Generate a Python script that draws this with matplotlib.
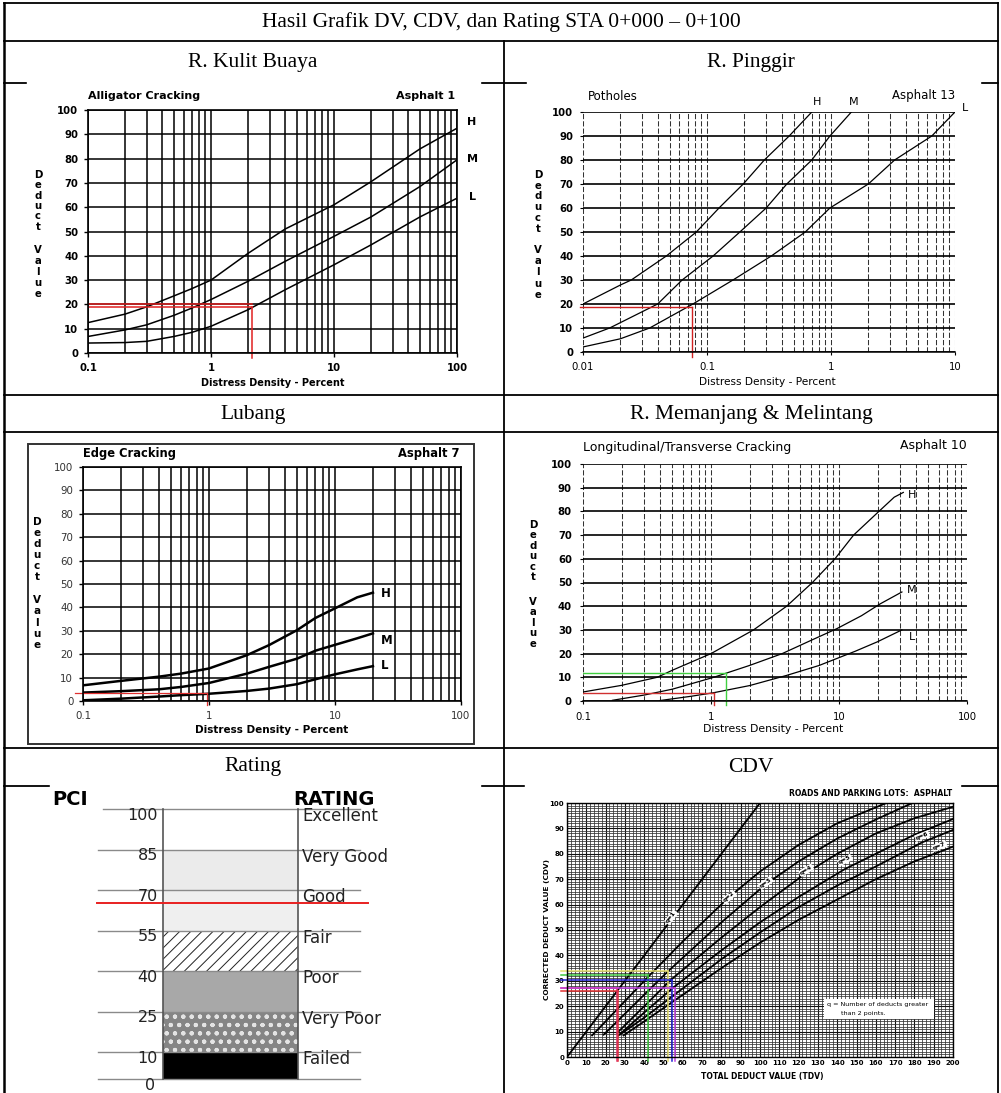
import numpy as np
import matplotlib
matplotlib.use('Agg')
import matplotlib.pyplot as plt
from matplotlib.ticker import LogLocator, NullFormatter, MultipleLocator
from matplotlib.patches import Rectangle

plt.rcParams['hatch.linewidth'] = 0.7

# ---------------- data ----------------
TITLE = 'Hasil Grafik DV, CDV, dan Rating STA 0+000 \u2013 0+100'
HEADERS = ['R. Kulit Buaya', 'R. Pinggir', 'Lubang', 'R. Memanjang & Melintang', 'Rating', 'CDV']

# Alligator cracking (Asphalt 1)
ALLIG_X = [0.1, 0.2, 0.3, 0.5, 0.7, 1, 2, 4, 10, 20, 50, 100]
ALLIG_H = [12.5, 16, 19, 23.5, 26.5, 30, 41, 51, 61, 70.5, 84, 92.5]
ALLIG_M = [6.8, 9.5, 11.6, 15.5, 18.5, 22, 29.5, 37.7, 48, 56, 68.5, 79.5]
ALLIG_L = [4.1, 4.3, 4.8, 6.8, 8.5, 11, 17.8, 26, 36.3, 44.5, 56, 63.7]
ALLIG_READ_X = 2.15
ALLIG_READ_Y = [18.8, 20.2]

# Potholes (Asphalt 13)
POT_H_X = [0.01, 0.02, 0.0245, 0.047, 0.082, 0.125, 0.196, 0.29, 0.46, 0.70]
POT_H_Y = [20, 27.9, 30, 40, 50, 60, 70, 80, 90, 100]
POT_M_X = [0.01, 0.0164, 0.040, 0.063, 0.112, 0.184, 0.30, 0.44, 0.70, 0.98, 1.46]
POT_M_Y = [5.8, 10, 20, 30, 40, 50, 60, 70, 80, 90, 100]
POT_L_X = [0.01, 0.02, 0.0345, 0.077, 0.162, 0.33, 0.62, 0.98, 2.0, 3.26, 6.5, 10]
POT_L_Y = [2.1, 5.5, 10, 20, 30, 40, 50, 60, 70, 80, 90, 100]
POT_READ_X = 0.076
POT_READ_Y = 18.8

# Edge cracking (Asphalt 7)
EDGE_X = [0.1, 0.2, 0.4, 0.6, 1, 2, 3, 5, 7, 10, 15, 20]
EDGE_H = [6.7, 8.6, 10.4, 11.7, 13.9, 19.6, 23.9, 30.3, 35.5, 39.6, 44.3, 46.3]
EDGE_M = [3.6, 4.2, 5.0, 6.0, 7.7, 11.7, 14.6, 18.1, 21.5, 24.0, 26.8, 28.9]
EDGE_L = [0.3, 1.0, 1.9, 2.5, 3.1, 4.3, 5.3, 7.2, 9.3, 11.4, 13.5, 14.9]
EDGE_READ_X = 0.97
EDGE_READ_Y = 3.6

# Longitudinal / transverse cracking (Asphalt 10)
LONG_H_X = [0.1, 0.2, 0.38, 0.5, 1.0, 2.15, 3.9, 6.2, 9.3, 13.0, 20.5, 27, 31.8]
LONG_H_Y = [3.8, 6.6, 10, 13, 20, 30, 40, 50, 60, 70, 80, 86, 88]
LONG_M_X = [0.17, 0.3, 0.5, 1.05, 2.0, 3.6, 6.0, 9.6, 15, 21, 31]
LONG_M_Y = [0.3, 2.5, 5, 10, 15, 20, 25.5, 30.5, 36, 41, 46]
LONG_L_X = [0.4, 0.7, 1.05, 2.0, 3.9, 7.0, 13.4, 20, 31]
LONG_L_Y = [0.2, 2, 3.5, 6.5, 10.8, 15, 21, 25, 30]
LONG_READ_RED = (1.05, 3.5)
LONG_READ_GREEN = (1.31, 12)

# PCI rating scale
PCI_LEVELS = [100, 85, 70, 55, 40, 25, 10, 0]
PCI_NAMES = ['Excellent', 'Very Good', 'Good', 'Fair', 'Poor', 'Very Poor', 'Failed']
PCI_RESULT = 65.2

# CDV curves (asphalt), q = 1..7
CDV_Q1_X = [0, 100]
CDV_Q1_Y = [0, 100]
CDV_Q2_X = [13, 20, 30, 42.6, 60, 84, 100, 120, 140, 165.5]
CDV_Q2_Y = [8.5, 14, 22, 32, 45.5, 63, 73, 83.5, 92, 100]
CDV_Q3_X = [19, 30, 52, 80, 103, 120, 140, 160, 179]
CDV_Q3_Y = [8.8, 17, 33.5, 53, 68, 77, 86, 93.5, 100]
CDV_Q4_X = [26, 40, 54, 80, 100, 124, 140, 160, 180, 200]
CDV_Q4_Y = [9.5, 20, 30.5, 47, 59, 72.5, 80, 88, 94, 98.5]
CDV_Q5_X = [26.7, 40, 55, 80, 100, 120, 144, 160, 180, 200]
CDV_Q5_Y = [8.5, 17.5, 27.3, 42, 53, 63, 74, 80, 87.5, 93.7]
CDV_Q6_X = [27.6, 40, 60, 80, 100, 120, 140, 160, 184, 200]
CDV_Q6_Y = [8.9, 15.5, 27, 38.5, 49, 59, 67.5, 75, 84.5, 89.4]
CDV_Q7_X = [29.3, 40, 60, 80, 100, 120, 140, 160, 180, 200]
CDV_Q7_Y = [8.5, 14, 24.5, 35, 45, 54, 62, 70, 77, 82.8]
Q_LABEL_X = [54, 84, 103, 124, 144, 184, 193]
Q_LABEL_Y = [55, 63, 68.5, 73.5, 77.5, 87, 83]
Q_LABEL_ROT = [52, 43, 36, 32, 27, 22, 21]
# (tdv, cdv, colour) of the reading lines
CDV_READS = [(26.4, 26.1, '#e03030'), (25.7, 27.0, '#e03060'), (42.1, 32.3, '#40c840'),
             (52.4, 33.9, '#e8e070'), (54.5, 30.3, '#2020d0'), (55.9, 27.0, '#c040e0')]

# ---------------- figure / table ----------------
W, H = 1001, 1093
fig = plt.figure(figsize=(W / 100, H / 100), dpi=100)
bg = fig.add_axes([0, 0, 1, 1])
bg.set_xlim(0, W)
bg.set_ylim(H, 0)
bg.axis('off')


def box(x0, y0, x1, y1):
    return fig.add_axes([x0 / W, 1 - y1 / H, (x1 - x0) / W, (y1 - y0) / H])


LW = 1.3
for y in [3, 41, 83, 395, 432, 748, 786]:
    bg.plot([4, 998], [y, y], color='k', lw=LW, zorder=1, solid_capstyle='projecting')
bg.plot([4, 4], [3, H], color='k', lw=1.8, zorder=1)
bg.plot([998, 998], [3, H], color='k', lw=1.3, zorder=1)
bg.plot([504, 504], [41, H], color='k', lw=1.3, zorder=1)

# the pasted screenshots hide part of the cell borders
for (x0, y0, x1, y1) in [(27, 79, 480, 90), (527, 79, 980, 90), (50, 782, 480, 792), (525, 782, 960, 792)]:
    bg.add_patch(Rectangle((x0, y0), x1 - x0, y1 - y0, color='white', zorder=1.5))

serif = 'Liberation Serif'
bg.text(501, 22, TITLE, ha='center', va='center', fontsize=15.5, family=serif)
for (cx, cy), txt in zip([(253, 62), (751, 62), (253, 414), (751, 414), (253, 767), (751, 767)], HEADERS):
    bg.text(cx, cy, txt, ha='center', va='center', fontsize=15.5, family=serif)


def stack_label(x, yD, stepD, yV, stepV, weight='bold', size=7.3, color='k'):
    for i, ch in enumerate('Deduct'):
        bg.text(x, yD + i * stepD, ch, ha='center', va='center', fontsize=size, fontweight=weight, color=color, zorder=5)
    for i, ch in enumerate('Value'):
        bg.text(x, yV + i * stepV, ch, ha='center', va='center', fontsize=size, fontweight=weight, color=color, zorder=5)


def log_axes(ax, xmin, xmax):
    ax.set_xscale('log')
    ax.set_xlim(xmin, xmax)
    ax.set_ylim(0, 100)
    ax.xaxis.set_minor_locator(LogLocator(base=10, subs=range(2, 10)))
    ax.xaxis.set_minor_formatter(NullFormatter())
    ax.set_yticks(range(0, 101, 10))
    decades = [10.0 ** k for k in range(int(np.log10(xmin)), int(np.log10(xmax)) + 1)]
    ax.set_xticks(decades)
    ax.set_xticklabels([('%g' % d) for d in decades])


# ---------- Alligator cracking ----------
ax1 = box(88, 110, 457, 353)
log_axes(ax1, 0.1, 100)
ax1.grid(which='both', axis='x', color='k', lw=1.1)
ax1.grid(which='major', axis='y', color='k', lw=1.1)
for s in ax1.spines.values():
    s.set_linewidth(1.2)
ax1.tick_params(which='major', length=3, width=1, labelsize=7.3, pad=4)
ax1.tick_params(which='minor', length=0)
plt.setp(ax1.get_xticklabels() + ax1.get_yticklabels(), fontweight='bold')
for ys in (ALLIG_H, ALLIG_M, ALLIG_L):
    ax1.plot(ALLIG_X, ys, color='k', lw=1.1)
for ry in ALLIG_READ_Y:
    ax1.plot([0.1, ALLIG_READ_X], [ry, ry], color='#e02020', lw=1.1)
ax1.plot([ALLIG_READ_X, ALLIG_READ_X], [-2, ALLIG_READ_Y[0]], color='#e02020', lw=1.1, clip_on=False)
bg.text(88, 96, 'Alligator Cracking', ha='left', va='center', fontsize=8, fontweight='bold')
bg.text(455, 96, 'Asphalt 1', ha='right', va='center', fontsize=8, fontweight='bold')
for lab, yy in zip('HML', [122, 159, 197]):
    bg.text(472, yy, lab, ha='center', va='center', fontsize=8, fontweight='bold')
bg.text(273, 383, 'Distress Density - Percent', ha='center', va='center', fontsize=7, fontweight='bold')
stack_label(38, 175, 10.3, 250, 11)

# ---------- Potholes ----------
ax2 = box(583, 112, 955, 352)
log_axes(ax2, 0.01, 10)
ax2.grid(which='both', axis='x', color='#333', lw=0.75, linestyle=(0, (5, 2)))
ax2.grid(which='major', axis='y', color='k', lw=1.2)
for side in ('top', 'right', 'left'):
    ax2.spines[side].set_visible(False)
ax2.spines['bottom'].set_linewidth(1.1)
ax2.tick_params(which='major', length=2, width=0.8, labelsize=7.3, pad=5)
ax2.tick_params(which='minor', length=0)
plt.setp(ax2.get_yticklabels(), fontweight='bold')
ax2.plot(POT_H_X, POT_H_Y, color='k', lw=0.9)
ax2.plot(POT_M_X, POT_M_Y, color='k', lw=0.9)
ax2.plot(POT_L_X, POT_L_Y, color='k', lw=0.9)
ax2.plot([0.0095, POT_READ_X], [POT_READ_Y, POT_READ_Y], color='#d02020', lw=1.0, clip_on=False)
ax2.plot([POT_READ_X, POT_READ_X], [-2, POT_READ_Y], color='#d02020', lw=1.0, clip_on=False)
bg.text(588, 97, 'Potholes', ha='left', va='center', fontsize=8.5)
bg.text(955, 95, 'Asphalt 13', ha='right', va='center', fontsize=8.5)
for lab, xx, yy in zip('HML', [817, 854, 965], [102, 102, 108]):
    bg.text(xx, yy, lab, ha='center', va='center', fontsize=8)
bg.text(767, 382, 'Distress Density - Percent', ha='center', va='center', fontsize=7.6)
stack_label(538, 175, 10.7, 250, 11.2)

# ---------- Edge cracking ----------
bg.add_patch(Rectangle((28, 444), 446, 300, fill=False, ec='#333', lw=1.4, zorder=3))
ax3 = box(83, 467, 461, 701)
log_axes(ax3, 0.1, 100)
ax3.grid(which='both', axis='x', color='k', lw=1.1)
ax3.grid(which='major', axis='y', color='k', lw=1.1)
for s in ax3.spines.values():
    s.set_linewidth(1.2)
ax3.tick_params(which='major', length=3, width=1, labelsize=7.4, pad=4, labelcolor='#333')
ax3.tick_params(which='minor', length=0)
for ys in (EDGE_H, EDGE_M, EDGE_L):
    ax3.plot(EDGE_X, ys, color='k', lw=1.8)
ax3.plot([0.087, EDGE_READ_X], [EDGE_READ_Y, EDGE_READ_Y], color='#e03030', lw=0.9, clip_on=False)
ax3.plot([EDGE_READ_X, EDGE_READ_X], [-1.5, EDGE_READ_Y], color='#e03030', lw=0.9, clip_on=False)
for lab, yy in zip('HML', [46, 26, 15.3]):
    ax3.text(23, yy, lab, ha='left', va='center', fontsize=8.5, fontweight='bold')
bg.text(83, 454, 'Edge Cracking', ha='left', va='center', fontsize=8.3, fontweight='bold')
bg.text(460, 454, 'Asphalt 7', ha='right', va='center', fontsize=8.3, fontweight='bold')
bg.text(272, 730, 'Distress Density - Percent', ha='center', va='center', fontsize=7.5, fontweight='bold')
stack_label(37, 522, 11, 600, 11.25, size=7.5)

# ---------- Longitudinal / transverse cracking ----------
ax4 = box(583, 464, 967, 701)
log_axes(ax4, 0.1, 100)
ax4.grid(which='both', axis='x', color='#333', lw=0.75, linestyle=(0, (5, 2)))
ax4.grid(which='major', axis='y', color='k', lw=1.2)
for side in ('top', 'right', 'left'):
    ax4.spines[side].set_visible(False)
ax4.spines['bottom'].set_linewidth(1.1)
ax4.tick_params(which='major', length=2, width=0.8, labelsize=7.3, pad=6)
ax4.tick_params(which='minor', length=0)
plt.setp(ax4.get_yticklabels(), fontweight='bold')
ax4.plot(LONG_H_X, LONG_H_Y, color='k', lw=0.9)
ax4.plot(LONG_M_X, LONG_M_Y, color='k', lw=0.9)
ax4.plot(LONG_L_X, LONG_L_Y, color='k', lw=0.9)
for (rx, ry), col in [(LONG_READ_RED, '#d03030'), (LONG_READ_GREEN, '#40d040')]:
    ax4.plot([0.1, rx], [ry, ry], color=col, lw=1.0)
    ax4.plot([rx, rx], [-1.5, ry], color=col, lw=1.0, clip_on=False)
for lab, yy in zip('HML', [87, 46.8, 27]):
    ax4.text(37, yy, lab, ha='center', va='center', fontsize=8)
bg.text(583, 447, 'Longitudinal/Transverse Cracking', ha='left', va='center', fontsize=9)
bg.text(967, 446, 'Asphalt 10', ha='right', va='center', fontsize=9)
bg.text(773, 729, 'Distress Density - Percent', ha='center', va='center', fontsize=7.8)
stack_label(533, 525, 10.4, 602, 10.4)

# ---------- Rating ----------
ax5 = box(30, 790, 480, 1092)
ax5.set_xlim(30, 480)
ax5.set_ylim(-4.81, 107.04)
ax5.axis('off')
band_style = [dict(fc='white'), dict(fc='#ebebeb'), dict(fc='#efefef'),
              dict(fc='white', hatch='///', ec='#222'), dict(fc='#a8a8a8'),
              dict(fc='#858585', hatch='oo..', ec='#e4e4e4'), dict(fc='black')]
for top, bot, st in zip(PCI_LEVELS[:-1], PCI_LEVELS[1:], band_style):
    ax5.add_patch(Rectangle((163, bot), 135, top - bot, lw=0, **st))
for lv in PCI_LEVELS:
    ax5.plot([98 if lv < 100 else 103, 360], [lv, lv], color='#8a8a8a', lw=1.0)
ax5.plot([163, 163], [0, 100], color='#555', lw=1.2)
ax5.plot([298, 298], [0, 100], color='#555', lw=1.2)
for lv in PCI_LEVELS[:-1]:
    ax5.text(158, lv - 2.4, str(lv), ha='right', va='center', fontsize=11.5, color='#222')
ax5.text(150, PCI_LEVELS[-1] - 2.4, str(PCI_LEVELS[-1]), ha='center', va='center', fontsize=11.5, color='#222')
for lv, name in zip(PCI_LEVELS[:-1], PCI_NAMES):
    ax5.text(302, lv - 2.6, name, ha='left', va='center', fontsize=12, color='#222')
ax5.plot([97, 368], [PCI_RESULT, PCI_RESULT], color='#e82020', lw=1.4)
ax5.text(52, 103.6, 'PCI', ha='left', va='center', fontsize=14, fontweight='bold')
ax5.text(375, 103.6, 'RATING', ha='right', va='center', fontsize=14, fontweight='bold')

# ---------- CDV ----------
narrow = ['Liberation Sans Narrow', 'DejaVu Sans']
ax6 = box(567, 803, 953, 1057)
ax6.set_xlim(0, 200)
ax6.set_ylim(0, 100)
ax6.xaxis.set_major_locator(MultipleLocator(10))
ax6.yaxis.set_major_locator(MultipleLocator(10))
ax6.xaxis.set_minor_locator(MultipleLocator(2))
ax6.yaxis.set_minor_locator(MultipleLocator(1))
ax6.grid(which='minor', color='#333', lw=0.55)
ax6.grid(which='major', color='#111', lw=0.8)
for s in ax6.spines.values():
    s.set_linewidth(1.0)
ax6.tick_params(which='both', length=0, labelsize=5, pad=2)
plt.setp(ax6.get_xticklabels() + ax6.get_yticklabels(), family=narrow, fontweight='bold')
curves = [(CDV_Q1_X, CDV_Q1_Y), (CDV_Q2_X, CDV_Q2_Y), (CDV_Q3_X, CDV_Q3_Y), (CDV_Q4_X, CDV_Q4_Y),
          (CDV_Q5_X, CDV_Q5_Y), (CDV_Q6_X, CDV_Q6_Y), (CDV_Q7_X, CDV_Q7_Y)]
for cx, cy in curves:
    ax6.plot(cx, cy, color='k', lw=1.3)
for i, (lx, ly, rot) in enumerate(zip(Q_LABEL_X, Q_LABEL_Y, Q_LABEL_ROT)):
    ax6.text(lx, ly, 'q=%d' % (i + 1), rotation=rot, rotation_mode='anchor', ha='center', va='center',
             fontsize=4.3, fontweight='bold', family=narrow,
             bbox=dict(fc='white', ec='none', pad=0.6))
for tx, cy, col in CDV_READS:
    ax6.plot([-3, tx], [cy, cy], color=col, lw=1.1, clip_on=False)
    ax6.plot([tx, tx], [-1.5, cy], color=col, lw=1.1, clip_on=False)
ax6.add_patch(Rectangle((133, 15.1), 57, 7.9, fc='white', ec='none', zorder=3))
ax6.text(134.5, 20.6, 'q = Number of deducts greater', fontsize=4.6, family=narrow, va='center', zorder=4)
ax6.text(142, 17.2, 'than 2 points.', fontsize=4.6, family=narrow, va='center', zorder=4)
bg.text(952, 793, 'ROADS AND PARKING LOTS:  ASPHALT', ha='right', va='center', fontsize=5.5,
        fontweight='bold', family=narrow)
bg.text(547, 930, 'CORRECTED DEDUCT VALUE (CDV)', rotation=90, ha='center', va='center', fontsize=5.3,
        fontweight='bold', family=narrow)
bg.text(762, 1077, 'TOTAL DEDUCT VALUE (TDV)', ha='center', va='center', fontsize=5.5,
        fontweight='bold', family=narrow)

fig.savefig('out.png', dpi=100, facecolor='white')
